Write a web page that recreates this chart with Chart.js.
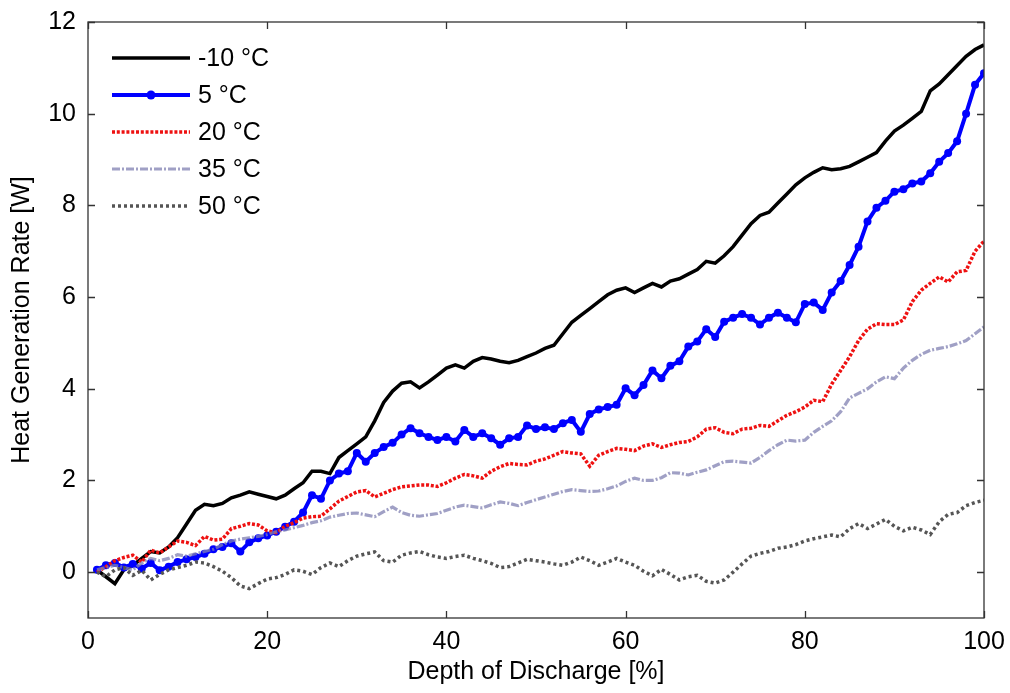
<!DOCTYPE html>
<html>
<head>
<meta charset="utf-8">
<title>Heat Generation Rate vs Depth of Discharge</title>
<script src="https://cdn.jsdelivr.net/npm/chart.js@4.4.1/dist/chart.umd.min.js"></script>
<style>
    html, body { margin: 0; padding: 0; background: #fff; }
    #wrap { width: 1010px; height: 693px; }
</style>
</head>
<body>
<div id="wrap"><canvas id="heatChart" width="1010" height="693"></canvas></div>
<script>
// Depth of discharge [%]
const dod = [
    1, 2, 3, 4, 5, 6, 7, 8, 9, 10, 11, 12, 13, 14, 15, 16, 17, 18, 19, 20,
    21, 22, 23, 24, 25, 26, 27, 28, 29, 30, 31, 32, 33, 34, 35, 36, 37, 38, 39, 40,
    41, 42, 43, 44, 45, 46, 47, 48, 49, 50, 51, 52, 53, 54, 55, 56, 57, 58, 59, 60,
    61, 62, 63, 64, 65, 66, 67, 68, 69, 70, 71, 72, 73, 74, 75, 76, 77, 78, 79, 80,
    81, 82, 83, 84, 85, 86, 87, 88, 89, 90, 91, 92, 93, 94, 95, 96, 97, 98, 99, 100
];

// Heat generation rate [W] per temperature
const heatM10 = [
    0.05, -0.1, -0.25, 0.05, 0.15, 0.3, 0.45, 0.42, 0.55, 0.75,
    1.05, 1.35, 1.48, 1.45, 1.5, 1.62, 1.68, 1.75, 1.7, 1.65,
    1.6, 1.68, 1.82, 1.95, 2.2, 2.2, 2.15, 2.5, 2.65, 2.8,
    2.95, 3.3, 3.7, 3.95, 4.12, 4.15, 4.02, 4.15, 4.3, 4.45,
    4.52, 4.45, 4.6, 4.68, 4.65, 4.6, 4.57, 4.62, 4.7, 4.78,
    4.88, 4.95, 5.2, 5.45, 5.6, 5.75, 5.9, 6.05, 6.15, 6.2,
    6.1, 6.2, 6.3, 6.22, 6.35, 6.4, 6.5, 6.6, 6.78, 6.74,
    6.9, 7.1, 7.35, 7.6, 7.78, 7.85, 8.05, 8.25, 8.45, 8.6,
    8.72, 8.82, 8.78, 8.8, 8.85, 8.95, 9.05, 9.15, 9.4, 9.62,
    9.75, 9.9, 10.05, 10.5, 10.65, 10.85, 11.05, 11.25, 11.4, 11.5
];
const heat5 = [
    0.05, 0.15, 0.2, 0.1, 0.18, 0.08, 0.2, 0.04, 0.12, 0.22,
    0.28, 0.33, 0.4, 0.5, 0.55, 0.63, 0.45, 0.65, 0.74, 0.8,
    0.88, 0.99, 1.1, 1.3, 1.68, 1.6, 2.0, 2.15, 2.2, 2.6,
    2.41, 2.6, 2.73, 2.82, 3.0, 3.14, 3.03, 2.95, 2.88, 2.95,
    2.85, 3.1, 2.95, 3.03, 2.92, 2.78, 2.92, 2.95, 3.2, 3.12,
    3.16, 3.12, 3.25, 3.32, 3.06, 3.45, 3.55, 3.6, 3.65, 4.01,
    3.86, 4.08, 4.4, 4.23, 4.5, 4.6, 4.92, 5.03, 5.3, 5.13,
    5.46, 5.55, 5.63, 5.55, 5.4, 5.55, 5.66, 5.55, 5.45, 5.85,
    5.88, 5.72, 6.1, 6.35, 6.7, 7.1, 7.65, 7.95, 8.1, 8.3,
    8.35, 8.48, 8.52, 8.7, 8.95, 9.14, 9.4, 10.0, 10.63, 10.88
];
const heat20 = [
    0.0, 0.12, 0.25, 0.32, 0.37, 0.22, 0.48, 0.42, 0.55, 0.68,
    0.65, 0.58, 0.78, 0.7, 0.72, 0.95, 1.0, 1.06, 1.03, 0.9,
    0.86, 1.0, 1.08, 1.18, 1.21, 1.22, 1.38, 1.55, 1.65, 1.75,
    1.78, 1.64, 1.72, 1.8, 1.86, 1.88, 1.9, 1.9, 1.87, 1.95,
    2.05, 2.13, 2.1, 2.05, 2.2, 2.3, 2.37, 2.35, 2.34, 2.42,
    2.47, 2.55, 2.63, 2.6, 2.58, 2.31, 2.55, 2.63, 2.7, 2.68,
    2.65, 2.75, 2.8, 2.72, 2.78, 2.83, 2.85, 2.95, 3.12, 3.15,
    3.05, 3.02, 3.12, 3.14, 3.2, 3.18, 3.3, 3.42, 3.5, 3.6,
    3.75, 3.72, 4.1, 4.4, 4.7, 5.05, 5.3, 5.42, 5.4, 5.4,
    5.5, 5.9, 6.15, 6.3, 6.44, 6.33, 6.55, 6.58, 7.0, 7.22
];
const heat35 = [
    0.05, 0.1, 0.15, 0.1, 0.05, 0.2, 0.3, 0.25, 0.3, 0.38,
    0.35, 0.4, 0.45, 0.5, 0.6, 0.68, 0.72, 0.75, 0.78, 0.82,
    0.88, 0.92, 0.97, 1.02, 1.08, 1.12, 1.2, 1.24, 1.28, 1.29,
    1.25, 1.21, 1.32, 1.42, 1.3, 1.24, 1.22, 1.25, 1.28, 1.35,
    1.42, 1.46, 1.43, 1.4, 1.47, 1.53, 1.5, 1.45, 1.52, 1.58,
    1.64, 1.7, 1.76, 1.8, 1.78, 1.76, 1.77, 1.82, 1.88, 1.98,
    2.05, 2.0, 2.0, 2.06, 2.17, 2.16, 2.12, 2.18, 2.23, 2.32,
    2.41, 2.42, 2.4, 2.38, 2.5, 2.65, 2.78, 2.88, 2.86, 2.88,
    3.05, 3.18, 3.3, 3.5, 3.8, 3.9, 4.0, 4.15, 4.26, 4.22,
    4.45, 4.62, 4.75, 4.84, 4.88, 4.92, 4.98, 5.05, 5.2, 5.35
];
const heat50 = [
    0.0, -0.1, 0.05, 0.1, -0.07, 0.04, -0.17, -0.05, 0.05, 0.1,
    0.15, 0.22, 0.2, 0.12, 0.02, -0.12, -0.3, -0.36, -0.25, -0.15,
    -0.12, -0.05, 0.05, 0.02, -0.05, 0.1, 0.2, 0.12, 0.25, 0.35,
    0.4, 0.44, 0.25, 0.22, 0.37, 0.42, 0.45, 0.38, 0.33, 0.3,
    0.34, 0.37, 0.3, 0.25, 0.19, 0.1, 0.12, 0.2, 0.28, 0.25,
    0.22, 0.18, 0.15, 0.22, 0.33, 0.25, 0.15, 0.22, 0.3, 0.22,
    0.15, 0.02, -0.08, 0.06, -0.05, -0.17, -0.1, -0.07, -0.2, -0.24,
    -0.17, 0.0, 0.18, 0.35, 0.41, 0.45, 0.52, 0.55, 0.6, 0.68,
    0.73, 0.77, 0.81, 0.77, 0.95, 1.06, 0.95, 1.05, 1.15, 1.0,
    0.9, 0.98, 0.92, 0.82, 1.1, 1.26, 1.3, 1.45, 1.52, 1.57
];

const seriesLabels = ['-10 °C', '5 °C', '20 °C', '35 °C', '50 °C'];
const xTicks = [0, 20, 40, 60, 80, 100];
const yTicks = [0, 2, 4, 6, 8, 10, 12];

const FONT = "'Liberation Sans', Arial, Helvetica, sans-serif";

function toPoints(values) {
    return dod.map((x, i) => ({ x: x, y: values[i] }));
}

// MATLAB style box with inward ticks on all four sides
const boxPlugin = {
    id: 'boxFrame',
    afterDraw(chart) {
        const { ctx, chartArea: ca, scales } = chart;
        const len = 7;
        ctx.save();
        ctx.strokeStyle = '#333';
        ctx.lineWidth = 1.3;
        ctx.strokeRect(ca.left, ca.top, ca.right - ca.left, ca.bottom - ca.top);
        ctx.beginPath();
        xTicks.forEach(v => {
            const px = Math.round(scales.x.getPixelForValue(v)) + 0.5;
            ctx.moveTo(px, ca.bottom); ctx.lineTo(px, ca.bottom - len);
            ctx.moveTo(px, ca.top); ctx.lineTo(px, ca.top + len);
        });
        yTicks.forEach(v => {
            const py = Math.round(scales.y.getPixelForValue(v)) + 0.5;
            ctx.moveTo(ca.left, py); ctx.lineTo(ca.left + len, py);
            ctx.moveTo(ca.right, py); ctx.lineTo(ca.right - len, py);
        });
        ctx.stroke();
        ctx.restore();
    }
};

// legend drawn inside the plot, top-left, no box
const insideLegend = {
    id: 'insideLegend',
    afterDraw(chart) {
        const { ctx, chartArea: ca } = chart;
        const x0 = ca.left + 24, x1 = ca.left + 102, tx = ca.left + 110;
        ctx.save();
        ctx.font = '25px ' + FONT;
        ctx.textBaseline = 'middle';
        ctx.textAlign = 'left';
        chart.data.datasets.forEach((ds, i) => {
            const y = ca.top + 36 + i * 37;
            ctx.beginPath();
            ctx.strokeStyle = ds.borderColor;
            ctx.lineWidth = ds.borderWidth;
            ctx.setLineDash(ds.borderDash || []);
            ctx.moveTo(x0, y); ctx.lineTo(x1, y);
            ctx.stroke();
            ctx.setLineDash([]);
            if (ds.pointRadius > 0) {
                ctx.beginPath();
                ctx.fillStyle = ds.pointBackgroundColor;
                ctx.arc((x0 + x1) / 2, y, ds.pointRadius + 0.5, 0, Math.PI * 2);
                ctx.fill();
            }
            ctx.fillStyle = '#000';
            ctx.fillText(ds.label, tx, y + 1);
        });
        ctx.restore();
    }
};

const ctx = document.getElementById('heatChart');
new Chart(ctx, {
    type: 'line',
    data: {
        datasets: [
            {
                label: seriesLabels[0],
                data: toPoints(heatM10),
                borderColor: '#000000',
                borderWidth: 3.5,
                pointRadius: 0,
                order: 5
            },
            {
                label: seriesLabels[1],
                data: toPoints(heat5),
                borderColor: '#0000ff',
                borderWidth: 4,
                pointRadius: 4,
                pointStyle: 'circle',
                pointBackgroundColor: '#0000ff',
                pointBorderColor: '#0000ff',
                pointBorderWidth: 0,
                order: 4
            },
            {
                label: seriesLabels[2],
                data: toPoints(heat20),
                borderColor: '#ee1111',
                borderWidth: 3.5,
                borderDash: [3, 1.8],
                pointRadius: 0,
                order: 3
            },
            {
                label: seriesLabels[3],
                data: toPoints(heat35),
                borderColor: 'rgba(128, 128, 178, 0.75)',
                borderWidth: 3.2,
                borderDash: [8, 2, 2, 2],
                pointRadius: 0,
                order: 2
            },
            {
                label: seriesLabels[4],
                data: toPoints(heat50),
                borderColor: '#555555',
                borderWidth: 3.5,
                borderDash: [3, 3],
                pointRadius: 0,
                order: 1
            }
        ]
    },
    options: {
        responsive: false,
        animation: false,
        devicePixelRatio: 1,
        layout: { padding: { top: 22, right: 26, left: 0, bottom: 0 } },
        elements: { line: { tension: 0 } },
        plugins: {
            legend: { display: false },
            tooltip: { enabled: false },
            title: { display: false }
        },
        scales: {
            x: {
                type: 'linear',
                min: 0,
                max: 100,
                afterBuildTicks(scale) { scale.ticks = xTicks.map(v => ({ value: v })); },
                afterFit(scale) {
                    scale.height = 75;
                    scale.paddingLeft = 0;
                    scale.paddingRight = 0;
                },
                grid: { display: false, drawTicks: false },
                border: { display: false },
                ticks: {
                    color: '#000',
                    padding: 9,
                    maxRotation: 0,
                    font: { family: FONT, size: 25 }
                },
                title: {
                    display: true,
                    text: 'Depth of Discharge [%]',
                    color: '#000',
                    font: { family: FONT, size: 25 },
                    padding: { top: 0, bottom: 6 }
                }
            },
            y: {
                type: 'linear',
                min: -1,
                max: 12,
                afterBuildTicks(scale) { scale.ticks = yTicks.map(v => ({ value: v })); },
                afterFit(scale) {
                    scale.width = 88;
                    scale.paddingTop = 0;
                    scale.paddingBottom = 0;
                },
                grid: { display: false, drawTicks: false },
                border: { display: false },
                ticks: {
                    color: '#000',
                    padding: 12,
                    font: { family: FONT, size: 25 }
                },
                title: {
                    display: true,
                    text: 'Heat Generation Rate [W]',
                    color: '#000',
                    font: { family: FONT, size: 25 },
                    padding: { top: 7, bottom: 0 }
                }
            }
        }
    },
    plugins: [boxPlugin, insideLegend]
});
</script>
</body>
</html>
